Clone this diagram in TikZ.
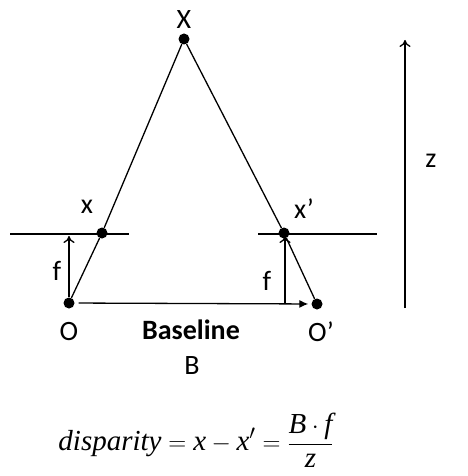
\documentclass[tikz,border=0pt]{standalone}
\usepackage{fontspec}
\setmainfont{Carlito}
\newfontfamily\tms{Liberation Serif}
\usetikzlibrary{arrows.meta}
\tikzset{
  dot/.style={circle,fill=black,inner sep=0pt,minimum size=11pt},
  ln/.style={line width=1.3pt},
  lbl/.style={font=\fontsize{28}{32}\selectfont,inner sep=0pt},
  openarr/.style={ln,-{To[length=7pt,width=11pt]}},
  fillarr/.style={ln,-{Latex[length=9pt,width=8pt]}}
}
\begin{document}
\begin{tikzpicture}[x=1pt,y=-1pt]
\useasboundingbox (0,0) rectangle (467,476);
% points
\node[dot] (X) at (184,39) {};
\node[dot] (O) at (69,303) {};
\node[dot] (Op) at (317,304) {};
\node[dot] (x) at (102,233) {};
\node[dot] (xp) at (284,233) {};
% image planes
\coordinate (pl1) at (10,234);
\coordinate (pl2) at (129,234);
\coordinate (pr1) at (258,234);
\coordinate (pr2) at (377,234);
\draw[ln] (pl1) -- (pl2);
\draw[ln] (pr1) -- (pr2);
% rays
\draw[ln] (X) -- (x) -- (O);
\draw[ln] (X) -- (xp) -- (Op);
% focal arrows
\coordinate (fl) at (69,236);
\draw[openarr] (O) -- (fl);
\coordinate (rb) at (285,303);
\coordinate (rt) at (285,236);
\draw[openarr] (rb) -- (rt);
% baseline arrow
\draw[fillarr,shorten <=4pt,shorten >=3pt] (O) -- (Op);
% z arrow
\coordinate (zb) at (405,308);
\coordinate (zt) at (405,40);
\draw[openarr] (zb) -- (zt);
% labels
\node[lbl] (lX) at (184,20) {X};
\node[lbl] (lx) at (87,207) {x};
\node[lbl] (lxp) at (304,209) {x’};
\node[lbl] (lf1) at (57,271) {f};
\node[lbl] (lf2) at (267,281) {f};
\node[lbl] (lO) at (69,332) {O};
\node[lbl] (lOp) at (321,332) {O’};
\node[lbl,font=\fontsize{28}{32}\selectfont\bfseries] (lB) at (191,330) {Baseline};
\node[lbl] (lBB) at (192,366) {B};
\node[lbl] (lz) at (431,161) {z};
% formula
\node[inner sep=0pt,font=\fontsize{29}{34}\selectfont] (eq) at (196,440)
  {$\displaystyle\mbox{\tms\itshape disparity} = \mbox{\tms\itshape x} - \mbox{\tms\itshape x}' = \frac{\mbox{\tms\itshape B}\cdot\mbox{\tms\itshape f}}{\mbox{\tms\itshape z}}$};
\end{tikzpicture}
\end{document}
